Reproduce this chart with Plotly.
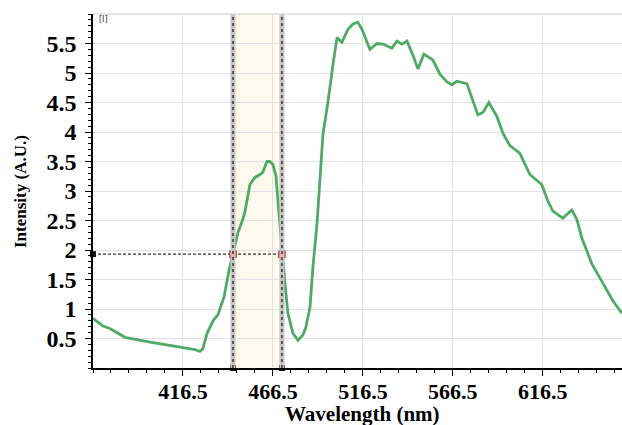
import plotly.graph_objects as go

# ---- data ----
wavelength = [366.5, 372.1, 375.9, 384.3, 398.2, 412.1, 423.2, 426.0, 427.6, 429.8,
              433.2, 435.9, 439.3, 442.1, 444.3, 447.1, 449.3, 450.9, 453.7, 456.5,
              459.3, 460.9, 463.2, 464.8, 466.5, 468.2, 469.3, 470.4, 471.5, 473.2,
              474.8, 477.6, 480.4, 483.2, 484.8, 487.1, 488.7, 491.0, 494.3, 497.1,
              499.8, 502.1, 504.8, 508.2, 511.0, 513.7, 516.0, 518.7, 520.4, 524.3,
              527.6, 532.6, 535.4, 538.2, 541.0, 544.3, 547.1, 550.4, 555.4, 559.3,
              563.2, 566.0, 568.7, 574.3, 577.1, 580.4, 583.2, 586.5, 591.0, 594.3,
              598.2, 603.7, 609.3, 615.9, 619.3, 622.1, 627.6, 632.6, 635.4, 638.2,
              643.7, 649.8, 655.4, 660.4]
intensity = [0.84, 0.71, 0.67, 0.52, 0.44, 0.37, 0.31, 0.28, 0.33, 0.58,
             0.80, 0.90, 1.20, 1.65, 1.93, 2.30, 2.48, 2.64, 3.11, 3.23,
             3.28, 3.32, 3.50, 3.50, 3.45, 3.25, 2.83, 2.44, 1.93, 1.43,
             0.93, 0.59, 0.47, 0.56, 0.69, 1.03, 1.70, 2.45, 3.96, 4.51,
             5.13, 5.60, 5.52, 5.74, 5.83, 5.86, 5.74, 5.55, 5.40, 5.50,
             5.49, 5.42, 5.54, 5.49, 5.54, 5.30, 5.07, 5.32, 5.22, 4.98,
             4.85, 4.80, 4.86, 4.82, 4.56, 4.29, 4.33, 4.50, 4.26, 3.98,
             3.77, 3.64, 3.28, 3.11, 2.83, 2.66, 2.54, 2.68, 2.52, 2.20,
             1.77, 1.43, 1.14, 0.93]

x_ticks = [416.5, 466.5, 516.5, 566.5, 616.5]
x_tick_labels = ["416.5", "466.5", "516.5", "566.5", "616.5"]
y_ticks = [0.5, 1, 1.5, 2, 2.5, 3, 3.5, 4, 4.5, 5, 5.5]
y_tick_labels = ["0.5", "1", "1.5", "2", "2.5", "3", "3.5", "4", "4.5", "5", "5.5"]

cursor_x = [444.3, 471.5]   # band cursors (nm)
cursor_level = 1.93         # horizontal cursor level

x_range = [366.5, 660.5]
y_range = [0, 6]

serif = "Liberation Serif, Times New Roman, serif"

fig = go.Figure()

# band fill
fig.add_shape(type="rect", xref="x", yref="paper", x0=cursor_x[0], x1=cursor_x[1],
              y0=0, y1=1, fillcolor="#FDF9EC", line_width=0, layer="below")

# grey cursor bars
for cx in cursor_x:
    fig.add_shape(type="line", xref="x", yref="paper", x0=cx, x1=cx, y0=0, y1=1,
                  line=dict(color="#C4C4C4", width=5), layer="above")
    fig.add_shape(type="line", xref="x", yref="paper", x0=cx, x1=cx, y0=0, y1=1,
                  line=dict(color="#222222", width=1.3, dash="dot"), layer="above")

# horizontal dashed cursor
fig.add_trace(go.Scatter(x=[x_range[0], cursor_x[1]], y=[cursor_level, cursor_level],
                         mode="lines", line=dict(color="#333333", width=1.2, dash="3px,2px"),
                         hoverinfo="skip", showlegend=False))

# top border line
fig.add_shape(type="line", xref="paper", yref="paper", x0=0, x1=1, y0=1, y1=1,
              line=dict(color="#DDDDDD", width=1.5))

# spectrum
fig.add_trace(go.Scatter(x=wavelength, y=intensity, mode="lines",
                         line=dict(color="#4FAA66", width=2.8),
                         showlegend=False))

# red markers at intersections
fig.add_trace(go.Scatter(x=cursor_x, y=[cursor_level, cursor_level], mode="markers",
                         marker=dict(symbol="square", size=6, color="#F4D6D6",
                                     line=dict(color="#D02020", width=1.5)),
                         showlegend=False))

# black markers on axes
fig.add_trace(go.Scatter(x=cursor_x, y=[y_range[0], y_range[0]], mode="markers",
                         marker=dict(symbol="square", size=6, color="#111111"),
                         cliponaxis=False, showlegend=False))
fig.add_trace(go.Scatter(x=[x_range[0]], y=[cursor_level], mode="markers",
                         marker=dict(symbol="square", size=6, color="#111111"),
                         cliponaxis=False, showlegend=False))

fig.add_annotation(text="[I]", xref="paper", yref="paper", x=0.008, y=0.985,
                   xanchor="left", yanchor="middle", showarrow=False,
                   font=dict(family="DejaVu Sans", size=8, color="#333333"))

# axis titles
fig.add_annotation(text="<b>Wavelength (nm)</b>", xref="paper", yref="paper",
                   x=0.51, y=-0.13, xanchor="center", yanchor="middle", showarrow=False,
                   font=dict(family=serif, size=21, color="black"))
fig.add_annotation(text="<b>Intensity (A.U.)</b>", xref="paper", yref="paper",
                   x=-0.138, y=0.5, xanchor="center", yanchor="middle", showarrow=False,
                   textangle=-90, font=dict(family=serif, size=17, color="black"))

fig.update_layout(
    width=622, height=425,
    margin=dict(l=93, r=0, t=14, b=57),
    plot_bgcolor="white", paper_bgcolor="white",
    showlegend=False,
    font=dict(family=serif, color="black"),
)

fig.update_xaxes(
    range=x_range, tickmode="array", tickvals=x_ticks, ticktext=x_tick_labels,
    automargin=False,
    showgrid=True, gridcolor="#E2E2E2", gridwidth=1,
    showline=True, linecolor="black", linewidth=1.5,
    ticks="outside", ticklen=6, tickcolor="black", tickwidth=1.2,
    minor=dict(ticks="outside", ticklen=3, tickcolor="black", tickwidth=1,
               tick0=366.5, dtick=10, showgrid=False),
    tickfont=dict(family=serif, size=22, color="black", weight="bold"),
    ticklabelstandoff=-3,
    zeroline=False,
)
fig.update_yaxes(
    range=y_range, tickmode="array", tickvals=y_ticks, ticktext=y_tick_labels,
    automargin=False,
    showgrid=True, gridcolor="#E2E2E2", gridwidth=1,
    showline=True, linecolor="black", linewidth=1.5,
    ticks="outside", ticklen=6, tickcolor="black", tickwidth=1.2,
    minor=dict(ticks="outside", ticklen=3, tickcolor="black", tickwidth=1,
               tick0=0, dtick=0.1, showgrid=False),
    tickfont=dict(family=serif, size=24, color="black", weight="bold"),
    ticklabelstandoff=4,
    zeroline=False,
)

fig.write_html("out.html", config={"displayModeBar": False},
               post_script="document.body.style.margin='0';document.body.style.overflow='hidden';")
